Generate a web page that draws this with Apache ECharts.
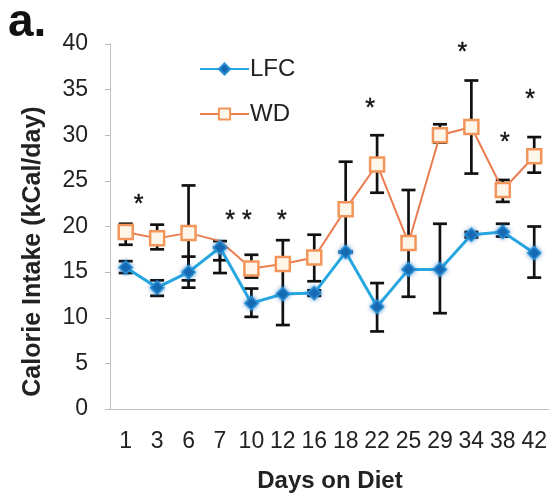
<!DOCTYPE html>
<html>
<head>
<meta charset="utf-8">
<script src="https://cdn.jsdelivr.net/npm/echarts@6/dist/echarts.min.js"></script>
<style>
html,body{margin:0;padding:0;background:#fff;}
#chart{width:550px;height:500px;}
</style>
</head>
<body>
<div id="chart"></div>
<script>
// ---- data ----
const days = ['1','3','6','7','10','12','16','18','22','25','29','34','38','42'];
const lfcMean = [15.5, 13.3, 15.0, 17.7, 11.6, 12.6, 12.7, 17.2, 11.2, 15.3, 15.3, 19.1, 19.4, 17.1];
const lfcLow  = [14.9, 12.4, 13.3, 14.9, 10.1,  9.2, 12.4, 17.2,  8.5, 12.3, 10.5, 18.8, 18.9, 14.4];
const lfcHigh = [16.2, 14.1, 16.7, 17.7, 13.2, 16.0, 13.0, 17.2, 13.8, 18.4, 20.3, 19.4, 20.3, 20.0];
const wdMean  = [19.4, 18.7, 19.3, 18.4, 15.4, 15.9, 16.6, 21.9, 26.8, 18.2, 30.0, 30.9, 24.0, 27.7];
const wdLow   = [18.0, 17.5, 14.1, 16.3, 14.4, 15.9, 14.0, 17.2, 23.7, 18.2, 29.2, 25.8, 22.7, 25.9];
const wdHigh  = [20.3, 20.2, 24.5, 18.4, 16.9, 18.5, 19.1, 27.1, 30.0, 24.0, 31.2, 36.0, 25.1, 29.8];
const starDays   = ['1', '10', '12', '22', '34', '38', '42'];
const starValues = [23.0, 21.3, 21.3, 33.5, 39.7, 29.8, 34.5];
const starTexts  = ['*', '* *', '*', '*', '*', '*', '*'];
const yTicks = [0, 5, 10, 15, 20, 25, 30, 35, 40];

// ---- styles (not data) ----
const starShift = [13, -13, -1, -7, -9, 2, -4];
const FONT = "'Liberation Sans', Arial, Helvetica, sans-serif";
const hiddenWdMarker = 3;

const chart = echarts.init(document.getElementById('chart'), null, {renderer: 'canvas'});

function errRender(params, api) {
  const i = api.value(0);
  const lo = api.coord([i, api.value(1)]);
  const hi = api.coord([i, api.value(2)]);
  const w = 7;
  const st = {stroke: '#111', lineWidth: 2.7};
  return {
    type: 'group',
    children: [
      {type: 'line', shape: {x1: lo[0], y1: lo[1], x2: hi[0], y2: hi[1]}, style: st},
      {type: 'line', shape: {x1: lo[0] - w, y1: lo[1], x2: lo[0] + w, y2: lo[1]}, style: st},
      {type: 'line', shape: {x1: hi[0] - w, y1: hi[1], x2: hi[0] + w, y2: hi[1]}, style: st}
    ]
  };
}

function starRender(params, api) {
  const i = api.value(0);
  const k = api.value(2);
  const p = api.coord([i, api.value(1)]);
  return {
    type: 'text',
    x: p[0] + starShift[k],
    y: p[1] + 6,
    style: {
      text: starTexts[k],
      fill: '#111',
      font: '25px ' + FONT,
      textAlign: 'center',
      textVerticalAlign: 'middle',
      stroke: '#111', lineWidth: 0.4
    }
  };
}

const option = {
  animation: false,
  backgroundColor: '#fff',
  textStyle: {fontFamily: FONT},
  graphic: [{
    type: 'text', left: 8, top: 0,
    style: {text: 'a.', fill: '#111', font: 'bold 46px ' + FONT}
  }],
  legend: {
    data: ['LFC', 'WD'],
    orient: 'vertical',
    left: 194, top: 52,
    itemWidth: 49, itemHeight: 14, itemGap: 21,
    textStyle: {fontSize: 24, color: '#222', fontFamily: FONT, padding: [0, 0, 0, -4]}
  },
  grid: {left: 110, right: 0, top: 44, bottom: 91, containLabel: false},
  xAxis: {
    type: 'category',
    data: days,
    boundaryGap: true,
    name: 'Days on Diet',
    nameLocation: 'middle',
    nameGap: 60,
    nameTextStyle: {fontSize: 24, fontWeight: 'bold', color: '#222', fontFamily: FONT},
    axisLine: {show: true, lineStyle: {color: '#b8b8b8', width: 1, type: 'dotted'}},
    axisTick: {show: false},
    axisLabel: {interval: 0, fontSize: 23, color: '#222', margin: 21, fontFamily: FONT},
    splitLine: {show: false}
  },
  yAxis: {
    type: 'value',
    min: 0, max: 40, interval: 5,
    name: 'Calorie Intake (kCal/day)',
    nameLocation: 'middle',
    nameGap: 64,
    nameRotate: 90,
    nameTextStyle: {fontSize: 25, fontWeight: 'bold', color: '#222', fontFamily: FONT, padding: [0, 50, 0, 0]},
    axisLine: {show: true, lineStyle: {color: '#b8b8b8', width: 1, type: 'dotted'}},
    axisTick: {show: true, length: 5, lineStyle: {color: '#bbb'}},
    axisLabel: {fontSize: 23, color: '#222', margin: 22, fontFamily: FONT,
      formatter: v => yTicks.includes(v) ? String(v) : ''},
    splitLine: {show: false}
  },
  series: [
    {
      name: 'LFC err', type: 'custom', renderItem: errRender, z: 1,
      data: days.map((d, i) => [i, lfcLow[i], lfcHigh[i]]),
      encode: {x: 0, y: [1, 2]}, silent: true
    },
    {
      name: 'WD err', type: 'custom', renderItem: errRender, z: 1,
      data: days.map((d, i) => [i, wdLow[i], wdHigh[i]]),
      encode: {x: 0, y: [1, 2]}, silent: true
    },
    {
      name: 'WD', type: 'line', data: wdMean, z: 3,
      symbol: 'rect',
      symbolSize: (v, p) => (p && p.dataIndex === hiddenWdMarker) ? 0 : 14,
      showAllSymbol: true,
      lineStyle: {color: '#ea7d50', width: 2},
      itemStyle: {color: '#fff6ea', borderColor: '#f2955a', borderWidth: 2.5}
    },
    {
      name: 'LFC', type: 'line', data: lfcMean, z: 4,
      symbol: 'diamond', symbolSize: 13,
      showAllSymbol: true,
      lineStyle: {color: '#27a6e0', width: 3},
      itemStyle: {color: '#1668b0', borderColor: '#2a8fd4', borderWidth: 1.5,
        shadowColor: 'rgba(30,120,200,0.7)', shadowBlur: 4}
    },
    {
      name: 'stars', type: 'custom', renderItem: starRender, z: 5,
      data: starDays.map((d, k) => [days.indexOf(d), starValues[k], k]),
      encode: {x: 0, y: 1}, silent: true
    }
  ]
};
chart.setOption(option);
</script>
</body>
</html>
